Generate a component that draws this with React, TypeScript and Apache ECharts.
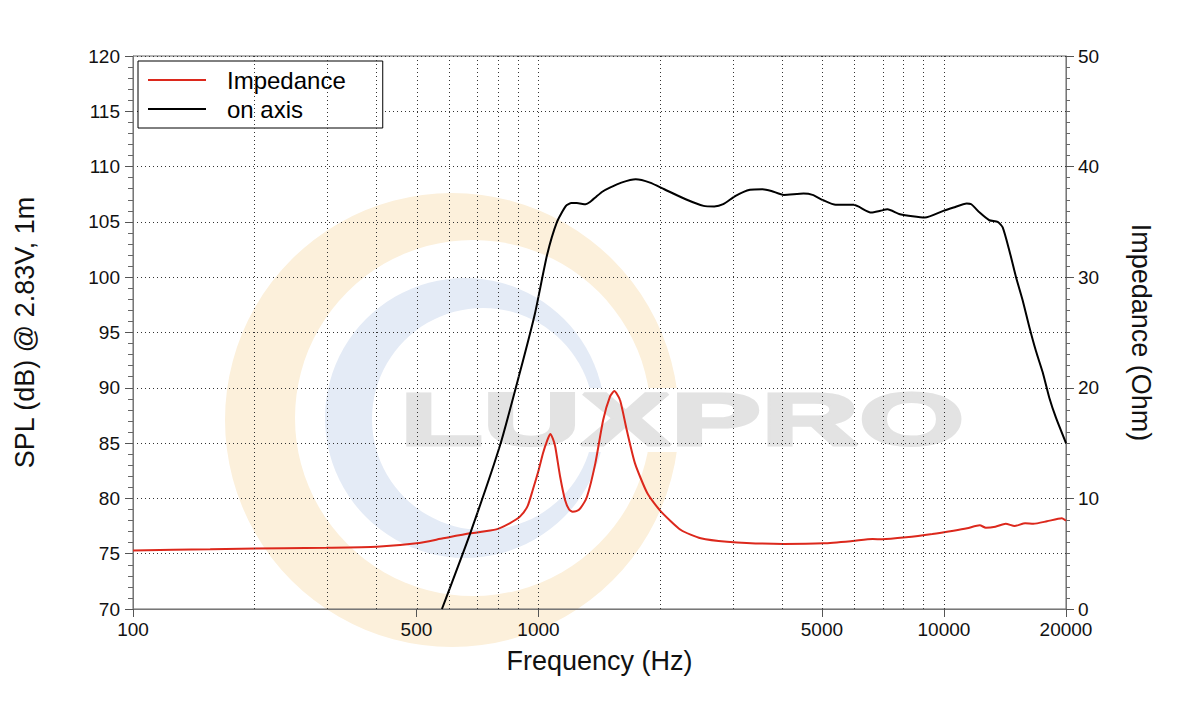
import React, { useEffect, useRef } from "react";
import * as echarts from "echarts";

// On-axis SPL response (dB @ 2.83V, 1m)
const SPL_FREQ = [578, 678, 804, 900, 980, 1050, 1111, 1169, 1206, 1243, 1307, 1340, 1390, 1440, 1500, 1601, 1737, 1884, 2043, 2307, 2554, 2714, 2855, 3063, 3323, 3567, 3753, 4029, 4506, 4741, 5036, 5406, 5984, 6623, 6969, 7257, 7790, 8978, 9963, 10560, 11380, 11680, 12250, 12940, 13570, 13960, 14500, 15060, 15640, 16240, 16870, 17520, 18190, 18890, 20000];
const SPL_DB = [70, 76.8, 84.8, 91.4, 96.7, 102.0, 105.0, 106.45, 106.7, 106.7, 106.6, 106.8, 107.3, 107.75, 108.1, 108.55, 108.85, 108.55, 107.95, 107.05, 106.45, 106.4, 106.6, 107.35, 107.9, 107.95, 107.8, 107.44, 107.56, 107.44, 106.96, 106.54, 106.54, 105.84, 106.0, 106.14, 105.7, 105.4, 106.0, 106.3, 106.66, 106.6, 105.84, 105.15, 105.0, 104.5, 102.4, 100.0, 97.9, 95.5, 93.3, 91.4, 89.1, 87.3, 85.0];

// Impedance (Ohm)
const IMP_FREQ = [100, 155, 185, 300, 399, 501, 582, 678, 787, 849, 900, 940, 968, 1000, 1026, 1050, 1069, 1085, 1100, 1131, 1163, 1190, 1214, 1240, 1268, 1317, 1381, 1444, 1501, 1538, 1589, 1651, 1730, 1856, 1995, 2246, 2513, 2917, 4019, 5055, 5955, 6670, 7060, 8060, 9360, 10560, 11410, 12260, 12680, 13390, 14200, 14940, 15860, 16620, 17950, 19530, 20000];
const IMP_OHM = [5.3, 5.4, 5.45, 5.54, 5.63, 5.94, 6.39, 6.84, 7.2, 7.75, 8.35, 9.3, 10.76, 12.5, 14.08, 15.2, 15.82, 15.4, 14.67, 11.96, 9.86, 9.0, 8.8, 8.85, 9.1, 10.15, 13.17, 17.09, 19.2, 19.7, 18.9, 16.18, 13.17, 10.46, 8.9, 7.14, 6.39, 6.09, 5.88, 5.94, 6.15, 6.33, 6.3, 6.48, 6.78, 7.08, 7.3, 7.57, 7.35, 7.44, 7.71, 7.5, 7.75, 7.71, 7.93, 8.2, 7.98];

const X_LABEL_FREQS = [100, 500, 1000, 5000, 10000, 20000];
const X_GRID_FREQS = [200, 300, 400, 500, 600, 700, 800, 900, 1000, 2000, 3000, 4000, 5000, 6000, 7000, 8000, 9000, 10000];
const SERIES_NAMES = ["Impedance", "on axis"];
const X_MIN = 100;
const X_MAX = 20000;

const FONT = '"Liberation Sans", Arial, Helvetica, sans-serif';

export default function App() {
  const ref = useRef<HTMLDivElement>(null);

  useEffect(() => {
    if (!ref.current) return;
    const chart = echarts.init(ref.current, undefined, { renderer: "svg" });
    const lg = Math.log10;

    const option: any = {
      animation: false,
      backgroundColor: "#ffffff",
      textStyle: { fontFamily: FONT },
      grid: {
        left: 133,
        right: 134,
        top: 56,
        bottom: 111,
        show: true,
        borderColor: "#666",
        borderWidth: 1,
        backgroundColor: "transparent",
      },
      graphic: [
        { type: "circle", z: -20, silent: true, shape: { cx: 452, cy: 420, r: 227 }, style: { fill: "#fcf0db" } },
        { type: "circle", z: -19, silent: true, shape: { cx: 473, cy: 418, r: 178 }, style: { fill: "#ffffff" } },
        { type: "circle", z: -18, silent: true, shape: { cx: 465, cy: 418, r: 140 }, style: { fill: "#e4ebf6" } },
        { type: "circle", z: -17, silent: true, shape: { cx: 483, cy: 419, r: 111 }, style: { fill: "#ffffff" } },
        { type: "rect", z: -16, silent: true, shape: { x: 585, y: 388, width: 105, height: 64 }, style: { fill: "#ffffff" } },
        {
          type: "text",
          z: -15,
          silent: true,
          x: 400,
          y: 419,
          scaleX: 1.83,
          style: {
            text: "LUXPRO",
            fontFamily: '"Liberation Sans", Arial, sans-serif',
            fontWeight: "bold",
            fontSize: 74,
            fill: "#e3e3e3",
            stroke: "#e3e3e3",
            lineWidth: 3,
            align: "left",
            verticalAlign: "middle",
          },
        },
      ],
      legend: {
        data: SERIES_NAMES,
        orient: "vertical",
        left: 138,
        top: 61,
        padding: [7, 37, 7, 10],
        itemGap: 5,
        itemWidth: 58,
        itemHeight: 2,
        icon: "rect",
        backgroundColor: "#ffffff",
        borderColor: "#000",
        borderWidth: 1,
        borderRadius: 0,
        selectedMode: false,
        textStyle: { fontSize: 24, color: "#000", fontFamily: FONT, padding: [0, 0, 0, 16] },
      },
      xAxis: {
        type: "value",
        min: lg(X_MIN),
        max: lg(X_MAX),
        axisLine: { show: true, lineStyle: { color: "#777", width: 1 } },
        axisTick: {
          show: true,
          customValues: X_LABEL_FREQS.map(lg),
          length: 8,
          lineStyle: { color: "#555" },
        },
        axisLabel: {
          customValues: X_LABEL_FREQS.map(lg),
          formatter: (v: number) => String(Math.round(Math.pow(10, v))),
          fontSize: 19,
          color: "#111",
          margin: 11,
          fontFamily: FONT,
        },
        splitLine: { show: false },
        name: "Frequency (Hz)",
        nameLocation: "middle",
        nameGap: 38,
        nameTextStyle: { fontSize: 27, color: "#111", fontFamily: FONT },
      },
      yAxis: [
        {
          type: "value",
          position: "left",
          min: 70,
          max: 120,
          interval: 5,
          axisLine: { show: true, lineStyle: { color: "#777", width: 1 } },
          axisTick: { show: true, length: 8, lineStyle: { color: "#555" } },
          minorTick: { show: true, splitNumber: 5, length: 5, lineStyle: { color: "#666" } },
          axisLabel: { fontSize: 19, color: "#111", margin: 13, fontFamily: FONT },
          splitLine: { show: true, lineStyle: { color: "#333", width: 1, type: [1, 3] } },
          name: "SPL (dB) @ 2.83V, 1m",
          nameLocation: "middle",
          nameRotate: 90,
          nameGap: 95,
          nameTextStyle: { fontSize: 27, color: "#111", fontFamily: FONT },
        },
        {
          type: "value",
          position: "right",
          min: 0,
          max: 50,
          interval: 10,
          axisLine: { show: true, lineStyle: { color: "#777", width: 1 } },
          axisTick: { show: true, length: 8, lineStyle: { color: "#555" } },
          minorTick: { show: true, splitNumber: 10, length: 4, lineStyle: { color: "#666" } },
          axisLabel: { fontSize: 19, color: "#111", margin: 12, fontFamily: FONT },
          splitLine: { show: false },
          name: "Impedance (Ohm)",
          nameLocation: "middle",
          nameRotate: -90,
          nameGap: 61,
          nameTextStyle: { fontSize: 27, color: "#111", fontFamily: FONT },
        },
      ],
      series: [
        {
          name: "gridlines",
          type: "line",
          data: [],
          silent: true,
          z: 1,
          markLine: {
            silent: true,
            symbol: ["none", "none"],
            label: { show: false },
            lineStyle: { color: "#333", width: 1, type: [1, 3] },
            emphasis: { disabled: true },
            data: X_GRID_FREQS.map((f) => ({ xAxis: lg(f) })),
          },
        },
        {
          name: SERIES_NAMES[0],
          type: "line",
          yAxisIndex: 1,
          showSymbol: false,
          smooth: 0.2,
          color: "#dc281c",
          lineStyle: { width: 2, color: "#dc281c" },
          data: IMP_FREQ.map((f, i) => [lg(f), IMP_OHM[i]]),
          z: 3,
        },
        {
          name: SERIES_NAMES[1],
          type: "line",
          yAxisIndex: 0,
          showSymbol: false,
          smooth: 0.2,
          color: "#000000",
          lineStyle: { width: 2, color: "#000000" },
          data: SPL_FREQ.map((f, i) => [lg(f), SPL_DB[i]]),
          z: 4,
        },
      ],
    };

    chart.setOption(option);
    return () => {
      chart.dispose();
    };
  }, []);

  return (
    <div
      ref={ref}
      style={{ position: "fixed", left: 0, top: 0, width: 1200, height: 720, background: "#fff" }}
    />
  );
}
